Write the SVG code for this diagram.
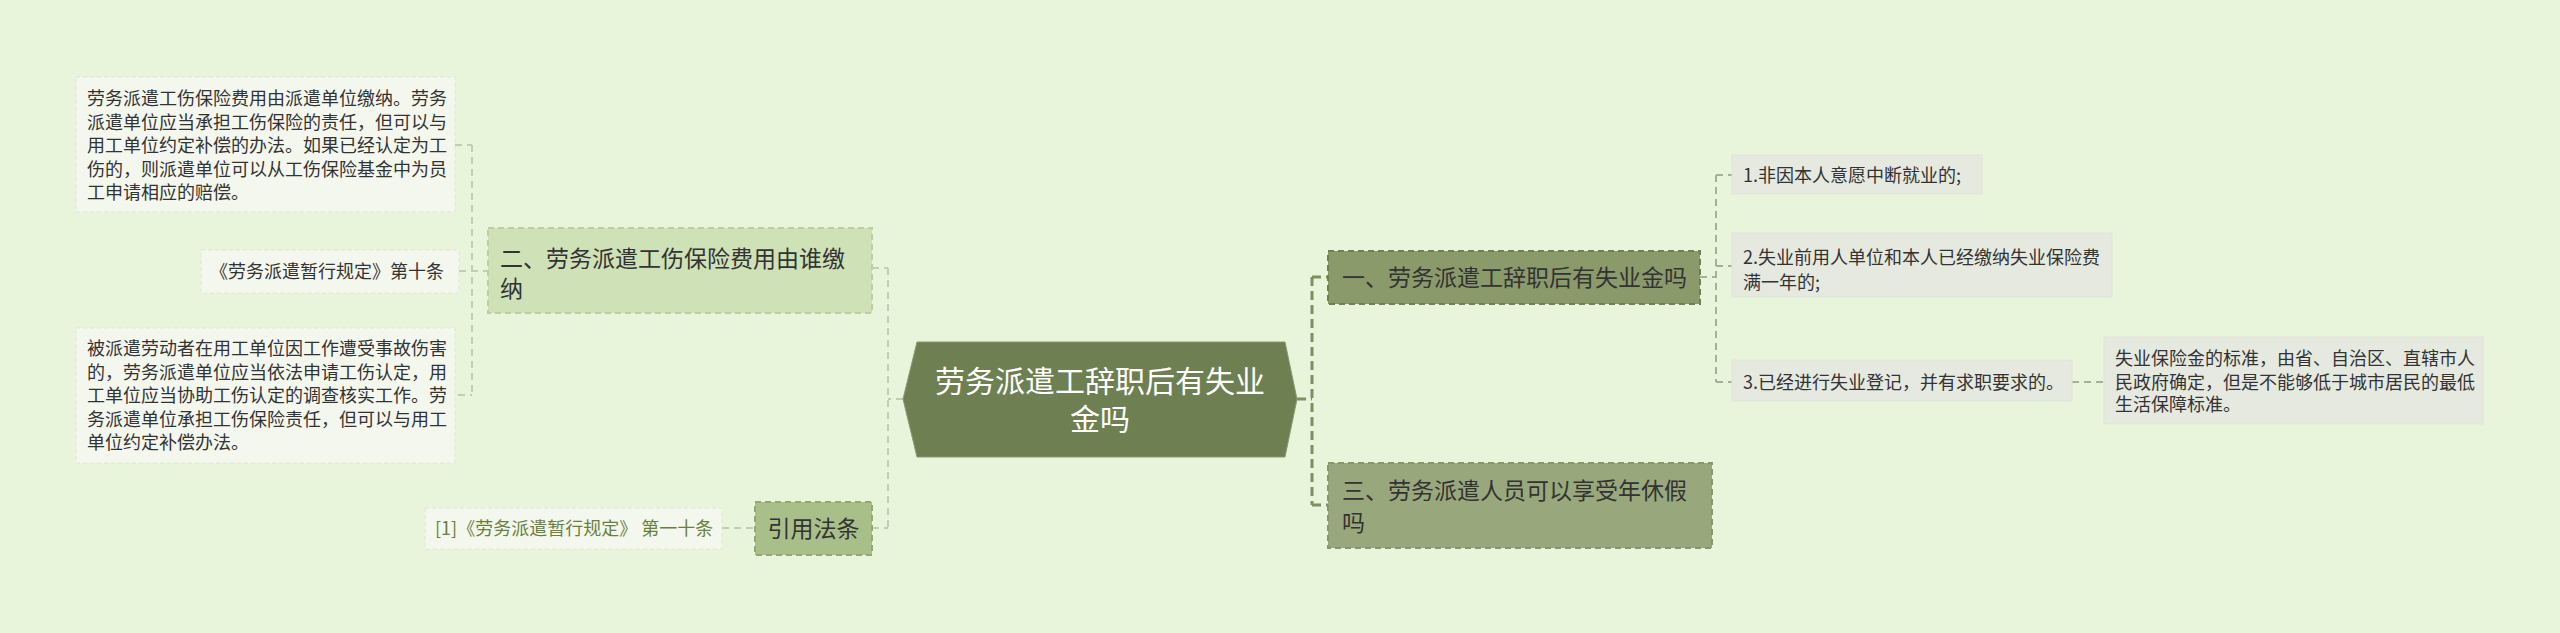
<svg xmlns="http://www.w3.org/2000/svg" width="2560" height="633" viewBox="0 0 2560 633">
<style>
text{font-family:"Noto Sans CJK SC","Noto Sans",sans-serif;}
.note{fill:#f3f7ee;stroke:#dfe6d6;stroke-width:1;stroke-dasharray:4 3;}
.gray{fill:#e6e9e0;stroke:#e0e3da;stroke-width:1;}
.t18{font-size:18px;fill:#333333;}
.t23{font-size:23px;fill:#333333;}
.lc{fill:none;stroke:#c3cdb3;stroke-width:2;stroke-dasharray:7 5;}
.rc{fill:none;stroke:#7f8f62;stroke-width:3;stroke-dasharray:9 5;}
.gc{fill:none;stroke:#a8ae9e;stroke-width:2;stroke-dasharray:7 5;}
</style>
<rect x="0" y="0" width="2560" height="633" fill="#e8f5da"/>
<g id="connectors">
  <path class="lc" d="M903 399 H888 M888 268 V528 M872 268 H888 M872 528 H888"/>
  <path class="lc" d="M455 145 H472 M472 145 V395 M459 271 H488 M458 395 H472"/>
  <path class="lc" d="M722 528 H755"/>
  <path class="rc" d="M1297 399 H1312 M1312 277 V505 M1312 277 H1328 M1312 505 H1328"/>
  <path class="gc" d="M1700 277 H1716 M1716 175 V382 M1716 175 H1732 M1716 266 H1732 M1716 382 H1732 M2072 382 H2104"/>
</g>
<g id="central">
  <polygon points="903,399 917,342 1285,342 1297,399 1285,457 917,457" fill="#6e7f52" stroke="#8a9a70" stroke-width="1"/>
  <text x="1100" y="392" font-size="30" fill="#ffffff" text-anchor="middle">劳务派遣工辞职后有失业</text>
  <text x="1100" y="430" font-size="30" fill="#ffffff" text-anchor="middle">金吗</text>
</g>
<g id="node-left-1">
  <rect x="488" y="228" width="384" height="85" fill="#cfe1b6" stroke="#bccea2" stroke-width="2" stroke-dasharray="6 4"/>
  <text class="t23" x="500" y="267">二、劳务派遣工伤保险费用由谁缴</text>
  <text class="t23" x="500" y="297">纳</text>
</g>
<g id="note-1">
  <rect class="note" x="76" y="77" width="379" height="135"/>
  <text class="t18" x="87" y="105">劳务派遣工伤保险费用由派遣单位缴纳。劳务</text>
  <text class="t18" x="87" y="128.5">派遣单位应当承担工伤保险的责任，但可以与</text>
  <text class="t18" x="87" y="152">用工单位约定补偿的办法。如果已经认定为工</text>
  <text class="t18" x="87" y="175.5">伤的，则派遣单位可以从工伤保险基金中为员</text>
  <text class="t18" x="87" y="199">工申请相应的赔偿。</text>
</g>
<g id="note-2">
  <rect class="note" x="201" y="250" width="258" height="43"/>
  <text class="t18" x="210" y="278">《劳务派遣暂行规定》第十条</text>
</g>
<g id="note-3">
  <rect class="note" x="76" y="328" width="379" height="135"/>
  <text class="t18" x="87" y="355">被派遣劳动者在用工单位因工作遭受事故伤害</text>
  <text class="t18" x="87" y="378.5">的，劳务派遣单位应当依法申请工伤认定，用</text>
  <text class="t18" x="87" y="402">工单位应当协助工伤认定的调查核实工作。劳</text>
  <text class="t18" x="87" y="425.5">务派遣单位承担工伤保险责任，但可以与用工</text>
  <text class="t18" x="87" y="449">单位约定补偿办法。</text>
</g>
<g id="node-left-2">
  <rect x="755" y="502" width="117" height="53" fill="#a9bf89" stroke="#93a875" stroke-width="2" stroke-dasharray="6 4"/>
  <text class="t23" x="813.5" y="537" text-anchor="middle">引用法条</text>
</g>
<g id="note-4">
  <rect class="note" x="425" y="508" width="297" height="41"/>
  <text x="435" y="535" font-size="18" fill="#6b7f3c">[1]《劳务派遣暂行规定》 第一十条</text>
</g>
<g id="node-right-1">
  <rect x="1328" y="251" width="372" height="53" fill="#8a9a6a" stroke="#6f7f52" stroke-width="2" stroke-dasharray="6 4"/>
  <text class="t23" x="1342" y="286" fill="#2b3320">一、劳务派遣工辞职后有失业金吗</text>
</g>
<g id="node-right-2">
  <rect x="1328" y="463" width="384" height="85" fill="#98a87c" stroke="#87976d" stroke-width="2" stroke-dasharray="6 4"/>
  <text class="t23" x="1342" y="499" fill="#2b3320">三、劳务派遣人员可以享受年休假</text>
  <text class="t23" x="1342" y="531" fill="#2b3320">吗</text>
</g>
<g id="item-1">
  <rect class="gray" x="1732" y="155" width="250" height="39"/>
  <text class="t18" x="1743" y="182">1.非因本人意愿中断就业的;</text>
</g>
<g id="item-2">
  <rect class="gray" x="1732" y="233" width="380" height="64"/>
  <text class="t18" x="1743" y="264">2.失业前用人单位和本人已经缴纳失业保险费</text>
  <text class="t18" x="1743" y="289">满一年的;</text>
</g>
<g id="item-3">
  <rect class="gray" x="1732" y="360" width="340" height="41"/>
  <text class="t18" x="1743" y="389">3.已经进行失业登记，并有求职要求的。</text>
</g>
<g id="item-3-note">
  <rect class="gray" x="2104" y="337" width="379" height="87"/>
  <text class="t18" x="2115" y="365">失业保险金的标准，由省、自治区、直辖市人</text>
  <text class="t18" x="2115" y="389">民政府确定，但是不能够低于城市居民的最低</text>
  <text class="t18" x="2115" y="411">生活保障标准。</text>
</g>
</svg>
